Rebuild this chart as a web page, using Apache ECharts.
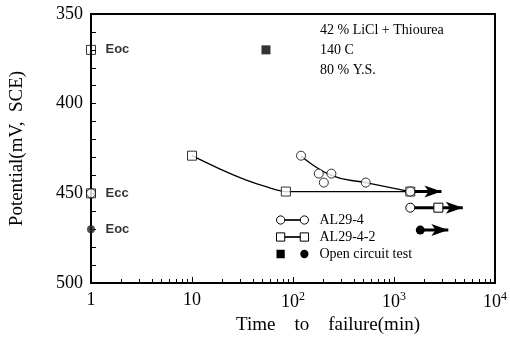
<!DOCTYPE html>
<html>
<head>
<meta charset="utf-8">
<script src="https://cdn.jsdelivr.net/npm/echarts@6/dist/echarts.min.js"></script>
<style>html,body{margin:0;padding:0;background:#fff}#main{width:510px;height:341px}</style>
</head>
<body>
<div id="main"></div>
<script>
// values (x: min, y: mV SCE)
var al294 = [[120, 429], [180, 439], [240, 439], [202, 444], [525, 444], [1450, 449]];
var al294Fit = [[120, 429], [240, 440], [525, 444], [1450, 449]];
var al2942 = [[10, 429], [85, 449], [1450, 449]];
var al2942Fit = [[10, 429], [19, 436.5], [34, 442.5], [54, 446.3], [85, 449], [1450, 449]];
var runout2942 = [[1450, 449], [2950, 449]];
var runout294 = [[1450, 458], [2750, 458], [4800, 458]];
var runoutOpen = [[1820, 470.5], [3450, 470.5]];
var eocSquares = [[1, 370], [1, 450]];
var eocCircles = [[1, 450]];
var eocFilled = [[1, 470]];
var eocLabels = [[1, 370, 'Eoc'], [1, 450, 'Ecc'], [1, 470, 'Eoc']];
var openSquare = [[54, 370]];
var xTickLabels = {1: '1', 10: '10', 100: '10{s|2}', 1000: '10{s|3}', 10000: '10{s|4}'};
var notes = ['42 % LiCl + Thiourea', '140 C', '80 % Y.S.'];

var serif = 'Liberation Serif';
var minorPos = [];
for (var d = 0; d < 4; d++) {
    for (var k = 2; k < 10; k++) minorPos.push(d + Math.log10(k));
}

var hollow = {color: '#fff', borderColor: '#000', borderWidth: 1};
var arrowItem = function (p) {
    return {value: p, symbol: 'arrow', symbolSize: [9, 17], symbolRotate: -90, itemStyle: {color: '#000'}};
};

var chart = echarts.init(document.getElementById('main'));
var option = {
    animation: false,
    grid: {left: 91, right: 13, top: 14, bottom: 58, show: true, backgroundColor: 'transparent',
           borderColor: '#000', borderWidth: 2},
    xAxis: [{
        type: 'log', logBase: 10, min: 1, max: 10000, z: 5,
        name: 'Time    to    failure(min)', nameLocation: 'middle', nameGap: 32,
        nameTextStyle: {fontFamily: serif, fontSize: 19, color: '#000', padding: [0, 0, 0, 70]},
        axisLine: {show: true, lineStyle: {color: '#000', width: 2}},
        axisTick: {show: true, inside: true, length: 6, lineStyle: {color: '#000', width: 1}},
        axisLabel: {
            show: true, margin: 8, fontFamily: serif, fontSize: 18, color: '#000',
            formatter: function (v) { return xTickLabels[Math.round(v)] || ''; },
            rich: {s: {fontFamily: serif, fontSize: 12, padding: [0, 0, 10, 0], color: '#000'}}
        },
        splitLine: {show: false}
    }, {
        type: 'value', min: 0, max: 4, position: 'bottom', z: 5,
        axisLine: {show: false},
        axisTick: {show: true, inside: true, length: 4, customValues: minorPos, lineStyle: {color: '#000', width: 1}},
        axisLabel: {show: false},
        splitLine: {show: false}
    }],
    yAxis: {
        type: 'value', inverse: true, min: 350, max: 500, interval: 50, z: 5,
        name: 'Potential(mV,  SCE)', nameLocation: 'middle', nameGap: 64,
        nameTextStyle: {fontFamily: serif, fontSize: 19, color: '#000'},
        axisLine: {show: true, lineStyle: {color: '#000', width: 2}},
        axisTick: {show: true, inside: true, length: 5, lineStyle: {color: '#000', width: 1}},
        minorTick: {show: true, splitNumber: 5, length: 5, lineStyle: {color: '#000', width: 1}},
        axisLabel: {show: true, margin: 8, fontFamily: serif, fontSize: 18, color: '#000'},
        splitLine: {show: false}
    },
    legend: {
        orient: 'vertical', left: 271, top: 208, itemGap: 3,
        itemWidth: 32, itemHeight: 9, selectedMode: false,
        textStyle: {fontFamily: serif, fontSize: 14, color: '#000', padding: [0, 0, 0, 6]},
        data: [
            {name: 'AL29-4', itemStyle: hollow,
             icon: 'path://M0.5,4.5a4,4 0 1,0 8,0a4,4 0 1,0 -8,0z M23.5,4.5a4,4 0 1,0 8,0a4,4 0 1,0 -8,0z M8.5,4.2h15v0.6h-15z'},
            {name: 'AL29-4-2', itemStyle: hollow,
             icon: 'path://M0.5,0.5h8v8h-8z M23.5,0.5h8v8h-8z M8.5,4.2h15v0.6h-15z'},
            {name: 'Open circuit test', itemStyle: {color: '#000'},
             icon: 'path://M0.5,0.5h8v8h-8z M23.5,4.5a4,4 0 1,0 8,0a4,4 0 1,0 -8,0z'}
        ]
    },
    graphic: notes.map(function (t, i) {
        return {type: 'text', left: 320, top: 23 + i * 20, style: {text: t, font: '14px "Liberation Serif"', fill: '#000'}};
    }),
    series: [
        {name: 'AL29-4-2', type: 'line', data: al2942Fit, smooth: 0.3, symbol: 'none',
         lineStyle: {color: '#000', width: 1.3}, z: 2},
        {name: 'AL29-4', type: 'line', data: al294Fit, smooth: 0.5, symbol: 'none',
         lineStyle: {color: '#000', width: 1.3}, z: 2},
        {name: 'AL29-4-2', type: 'line', lineStyle: {color: '#000', width: 3}, z: 3,
         data: [{value: runout2942[0], symbol: 'none'}, arrowItem(runout2942[1])]},
        {name: 'AL29-4', type: 'line', lineStyle: {color: '#000', width: 3}, z: 3,
         data: [
             {value: runout294[0], symbol: 'circle', symbolSize: 9, itemStyle: hollow},
             {value: runout294[1], symbol: 'rect', symbolSize: 9, itemStyle: hollow},
             arrowItem(runout294[2])
         ]},
        {name: 'Open circuit test', type: 'line', lineStyle: {color: '#000', width: 3}, z: 3,
         data: [{value: runoutOpen[0], symbol: 'circle', symbolSize: 9, itemStyle: {color: '#000'}}, arrowItem(runoutOpen[1])]},
        {name: 'AL29-4-2', type: 'scatter', data: al2942, symbol: 'rect', symbolSize: 9, itemStyle: hollow, z: 4},
        {name: 'AL29-4', type: 'scatter', data: al294, symbol: 'circle', symbolSize: 9, itemStyle: hollow, z: 5},
        {name: 'AL29-4-2', type: 'scatter', data: eocSquares, symbol: 'rect', symbolSize: 9, itemStyle: hollow, z: 4, clip: false},
        {name: 'AL29-4', type: 'scatter', data: eocCircles, symbol: 'circle', symbolSize: 9, itemStyle: hollow, z: 5, clip: false},
        {name: 'Open circuit test', type: 'scatter', data: eocFilled, symbol: 'circle', symbolSize: 8, itemStyle: {color: '#222'}, z: 5, clip: false},
        {name: 'Open circuit test', type: 'scatter', data: openSquare, symbol: 'rect', symbolSize: 9, itemStyle: {color: '#000'}},
        {type: 'scatter', data: eocLabels, symbolSize: 1, itemStyle: {color: 'rgba(0,0,0,0)'}, clip: false, z: 6,
         label: {show: true, position: 'right', distance: 14,
                 formatter: function (p) { return p.value[2]; },
                 fontFamily: 'Liberation Sans', fontSize: 13, fontWeight: 'bold', color: '#000'}}
    ]
};
chart.setOption(option);
</script>
</body>
</html>
